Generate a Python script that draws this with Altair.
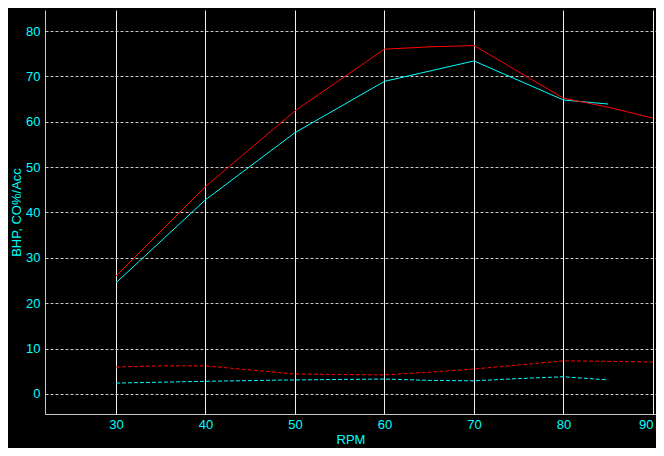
import altair as alt
import pandas as pd

# BHP (red solid)
bhp_red_rpm = [30, 40, 50, 60, 65, 70, 80, 85, 90]
bhp_red_val = [26.0, 45.7, 62.4, 76.0, 76.5, 76.8, 65.2, 63.2, 60.8]
# BHP (cyan solid)
bhp_cyan_rpm = [30, 40, 50, 60, 70, 80, 85]
bhp_cyan_val = [24.5, 42.8, 57.6, 68.9, 73.4, 64.8, 63.9]
# CO% / Acc (red dashed)
co_red_rpm = [30, 35, 40, 45, 50, 55, 60, 65, 70, 75, 80, 85, 90]
co_red_val = [5.95, 6.2, 6.2, 5.3, 4.4, 4.3, 4.2, 4.8, 5.5, 6.4, 7.3, 7.2, 7.05]
# CO% / Acc (cyan dashed)
co_cyan_rpm = [30, 40, 50, 60, 65, 70, 75, 80, 85]
co_cyan_val = [2.4, 2.8, 3.1, 3.3, 3.0, 2.9, 3.4, 3.8, 3.1]

x_ticks = [30, 40, 50, 60, 70, 80, 90]
y_ticks = [0, 10, 20, 30, 40, 50, 60, 70, 80]

xs = alt.Scale(domain=[22.07, 90.34], nice=False, zero=False)
ys = alt.Scale(domain=[-4.41, 84.63], nice=False, zero=False)

xax = alt.Axis(values=x_ticks, title="RPM", grid=True, gridColor="#f0f0f0",
               gridWidth=1, tickSize=0, labelPadding=4, titlePadding=2,
               labelFlush=5, domainColor="#c8c8c8")
yax = alt.Axis(values=y_ticks, title="BHP, CO%/Acc", grid=True, gridColor="#c8c8c8",
               gridDash=[3, 2], gridWidth=1, tickSize=0, labelPadding=5,
               titlePadding=2, domainColor="#c8c8c8")


def layer(rpm, val, color, dash=None):
    df = pd.DataFrame({"rpm": rpm, "val": val})
    kw = dict(color=color, strokeWidth=1, clip=True)
    if dash:
        kw["strokeDash"] = dash
    return alt.Chart(df).mark_line(**kw).encode(
        x=alt.X("rpm:Q", scale=xs, axis=xax),
        y=alt.Y("val:Q", scale=ys, axis=yax),
    )


chart = alt.layer(
    layer(co_cyan_rpm, co_cyan_val, "#00ffff", [4, 2]),
    layer(co_red_rpm, co_red_val, "#ff0000", [4, 2]),
    layer(bhp_cyan_rpm, bhp_cyan_val, "#00ffff"),
    layer(bhp_red_rpm, bhp_red_val, "#ff0000"),
).properties(
    width=611, height=404,
    padding={"left": 37, "top": 2, "right": 0, "bottom": 34},
    autosize=alt.AutoSizeParams(type="none"),
    background="#000000",
).configure_view(stroke=None).configure_axis(
    labelColor="#00ffff", titleColor="#00ffff", labelFont="Liberation Sans",
    titleFont="Liberation Sans", labelFontSize=13, titleFontSize=13,
    titleFontWeight="normal",
)

chart.save("out.html", embed_options={"renderer": "svg", "actions": False})
